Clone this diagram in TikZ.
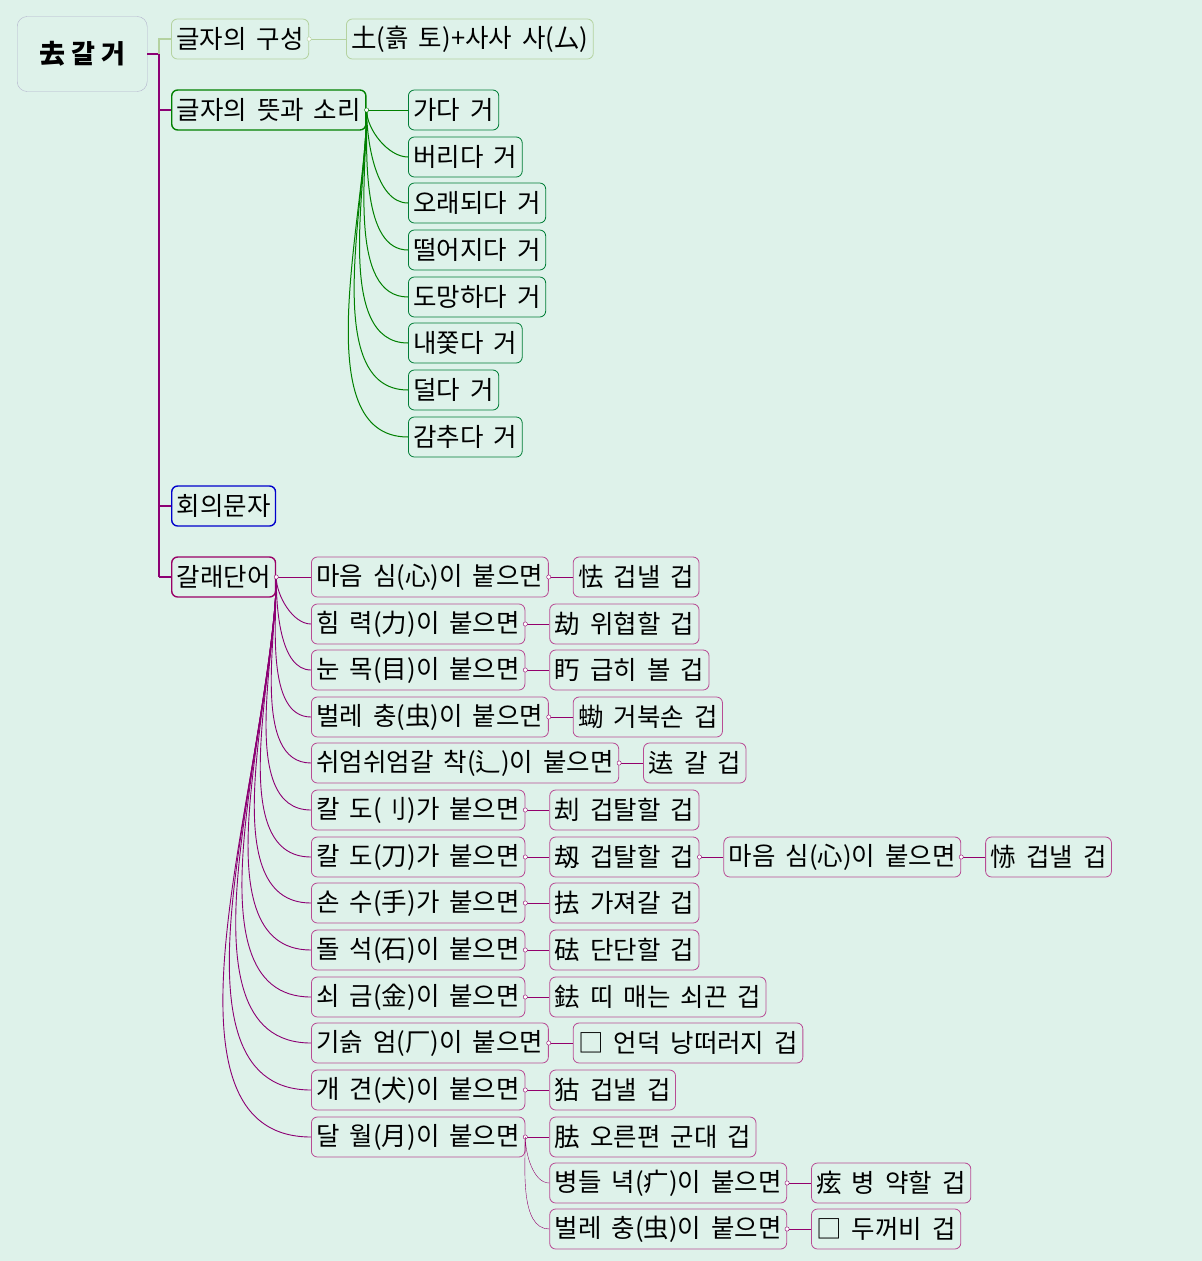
\documentclass[tikz,border=0pt]{standalone}
\usepackage{fontspec}
\setmainfont{Noto Sans CJK KR}
\definecolor{lg}{RGB}{180,210,160}
\definecolor{bgc}{RGB}{222,242,234}
\newcommand{\wsp}{\spaceskip=10pt plus 1pt\relax}
\begin{document}
\begin{tikzpicture}[x=1pt,y=-1pt,
 bx/.style={draw,rounded corners=6pt,anchor=west,minimum height=40pt,inner xsep=5pt,inner ysep=0pt,font=\fontsize{25.5}{28}\selectfont\wsp,line width=0.8pt,text=black},
 gk/.style={bx,draw=lg},
 gs/.style={bx,draw=green!50!black,line width=1.4pt},
 gc/.style={bx,draw=teal!60!green!70!black},
 bl/.style={bx,draw=blue!80!black,line width=1.4pt},
 pm/.style={bx,draw=violet!60!purple,line width=1.4pt},
 pc/.style={bx,draw=violet!60!purple!70!white},
 dot/.style={circle,draw,fill=white,inner sep=1.5pt},
 fan/.style={out=-90,in=180,looseness=0.8}]
\fill[bgc] (0,0) rectangle (1202,1261);
\useasboundingbox (0,0) rectangle (1202,1261);
\node[draw=blue!20!gray!50!white,rounded corners=10pt,minimum width=130pt,minimum height=75pt,anchor=west,font=\fontsize{26}{28}\selectfont\bfseries] (root) at (17,54) {去 갈 거};
% level 1
\node[gk] (k) at (171,39) {글자의 구성};
\node[gk] (k1) at (346,39) {土(흙 토)+사사 사(厶)};
\node[gs] (m) at (171,110) {글자의 뜻과 소리};
\node[bl] (h) at (171,506) {회의문자};
\node[pm] (g) at (171,577) {갈래단어};
\draw[violet!80!purple,line width=1.6pt] (root.east) -- (159,54) -- (159,577);
\foreach \n in {m,h,g}{\draw[violet!80!purple,line width=1.6pt] (159,0|-\n.west) -- (\n.west);}
\draw[lg,line width=1.2pt] (159,54) |- (k.west);
\draw[lg] (k.east) -- (k1.west);
\node[dot,draw=lg] at (k.east) {};
% meanings
\foreach \t/\y/\i in {가다 거/110/1,버리다 거/157/2,오래되다 거/203/3,떨어지다 거/250/4,도망하다 거/297/5,내쫓다 거/343/6,덜다 거/390/7,감추다 거/437/8}{
 \node[gc] (m\i) at (408,\y) {\t};}
\draw[green!50!black] (m.east) -- (m1.west);
\foreach \i in {2,...,8}{\draw[green!50!black,line width=1pt] (m.east) to[fan] (m\i.west);}
\node[dot,draw=green!50!black] at (m.east) {};
% derived
\foreach \t/\y/\i in {마음 심(心)이 붙으면/577/1,힘 력(力)이 붙으면/624/2,눈 목(目)이 붙으면/670/3,벌레 충(虫)이 붙으면/717/4,쉬엄쉬엄갈 착(辶)이 붙으면/763/5,칼 도(刂)가 붙으면/810/6,칼 도(刀)가 붙으면\hspace{8pt}/857/7,손 수(手)가 붙으면/903/8,돌 석(石)이 붙으면/950/9,쇠 금(金)이 붙으면/997/10,기슭 엄(厂)이 붙으면/1043/11,개 견(犬)이 붙으면/1090/12,달 월(月)이 붙으면/1137/13}{
 \node[pc] (c\i) at (311,\y) {\t};}
\draw[violet!70!purple] (g.east) -- (c1.west);
\foreach \i in {2,...,13}{\draw[violet!80!purple,line width=0.9pt] (g.east) to[fan] (c\i.west);}
\node[dot,draw=violet!70!purple] at (g.east) {};
\foreach \t/\i in {怯 겁낼 겁/1,劫 위협할 겁/2,䀎 급히 볼 겁/3,蜐 거북손 겁/4,迲 갈 겁/5,刦 겁탈할 겁/6,刼 겁탈할 겁/7,抾 가져갈 겁/8,砝 단단할 겁/9,鉣 띠 매는 쇠끈 겁/10,□ 언덕 낭떠러지 겁/11,狜 겁낼 겁/12,胠 오른편 군대 겁/13}{
 \node[pc] (d\i) at ([xshift=24pt]c\i.east) {\t};
 \draw[violet!70!purple] (c\i.east) -- (d\i.west);
 \node[dot,draw=violet!70!purple] at (c\i.east) {};}
\node[pc] (e1) at ([xshift=24pt]d7.east) {마음 심(心)이 붙으면};
\node[pc] (f1) at ([xshift=24pt]e1.east) {㤸 겁낼 겁};
\draw[violet!70!purple] (d7.east) -- (e1.west) (e1.east) -- (f1.west);
\node[dot,draw=violet!70!purple] at (d7.east) {};
\node[dot,draw=violet!70!purple] at (e1.east) {};
\coordinate (ex) at ([xshift=24pt]c13.east);
\node[pc] (e2) at (ex|-0,1183) {병들 녁(疒)이 붙으면};
\node[pc] (e3) at (ex|-0,1229) {벌레 충(虫)이 붙으면};
\node[pc] (f2) at ([xshift=24pt]e2.east) {痃 병 약할 겁};
\node[pc] (f3) at ([xshift=24pt]e3.east) {□ 두꺼비 겁};
\draw[violet!70!purple] (c13.east) to[fan] (e2.west) (c13.east) to[fan] (e3.west);
\draw[violet!70!purple] (e2.east) -- (f2.west) (e3.east) -- (f3.west);
\node[dot,draw=violet!70!purple] at (e2.east) {};
\node[dot,draw=violet!70!purple] at (e3.east) {};
\end{tikzpicture}
\end{document}
